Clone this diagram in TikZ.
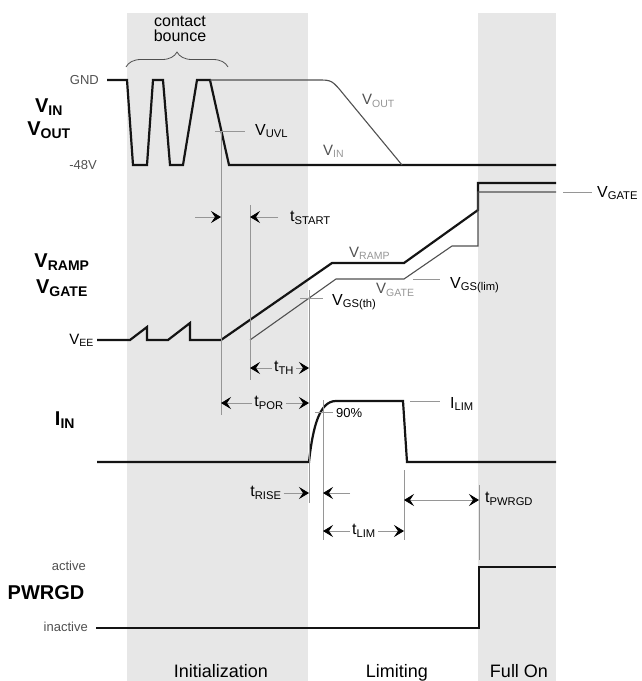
\documentclass[tikz,border=0pt]{standalone}
\usepackage{fontspec}
\setmainfont{Liberation Sans}
\usepackage{tikz}
\usetikzlibrary{arrows.meta,positioning,calc,decorations.pathreplacing}
\usepackage{xcolor}
\definecolor{bandcolor}{RGB}{231, 231, 231}
\definecolor{guidecolor}{RGB}{150, 150, 150}
\definecolor{tracecolor}{RGB}{20, 20, 20}
\definecolor{softcolor}{RGB}{80, 80, 80}
\newcommand{\lo}[1]{\textsubscript{#1}}
\newcommand{\glo}[1]{\textcolor{guidecolor}{\textsubscript{#1}}}

\begin{document}
\begin{tikzpicture}[x=1pt, y=-1pt,
    band/.style={fill=bandcolor, draw=none},
    trace/.style={line width=2.2pt, tracecolor, line join=miter},
    thintrace/.style={line width=1.1pt, softcolor},
    guide/.style={line width=0.8pt, guidecolor},
    tip/.style={-{Stealth[black, length=10pt, width=12pt, inset=4pt]}},
    dim/.style={guide, tip},
    dimboth/.style={guide, {Stealth[black, length=10pt, width=12pt, inset=4pt]}-{Stealth[black, length=10pt, width=12pt, inset=4pt]}},
    signal/.style={font=\bfseries\fontsize{20}{22}\selectfont, inner sep=0pt},
    level/.style={font=\fontsize{13}{15}\selectfont, anchor=east, text=softcolor, inner sep=0pt},
    tag/.style={font=\fontsize{16}{18}\selectfont, anchor=west, inner sep=0pt},
    wave/.style={font=\fontsize{15}{17}\selectfont, anchor=west, inner sep=0pt, text=softcolor},
    time/.style={font=\fontsize{16}{18}\selectfont, inner sep=2pt},
    phase/.style={font=\fontsize{18}{20}\selectfont, anchor=base},
]
    \useasboundingbox (0,0) rectangle (642,681);

    % Phase bands
    \fill[band] (127,13) rectangle (308,681);
    \fill[band] (478,13) rectangle (556,681);

    % Phase names
    \node[phase] (init) at (221,677) {Initialization};
    \node[phase] (limit) at (397,677) {Limiting};
    \node[phase] (fullon) at (519,677) {Full On};

    % ---------------- V_IN / V_OUT ----------------
    \node[signal] (vin) at (49,107) {V\lo{IN}};
    \node[signal] (vout) at (49,130) {V\lo{OUT}};
    \node[level] (gnd) at (99,80) {GND};
    \node[level] (m48) at (97,165) {-48V};

    \node[font=\fontsize{16}{15}\selectfont, align=center, inner sep=0pt] (bounce) at (180,29) {contact\\bounce};
    \draw[guide, softcolor, decorate, decoration={brace, amplitude=15pt}] (126,67) -- (228,67);

    \draw[trace] (107,80) -- (127,80) -- (133,165) -- (147,165) -- (153,80) -- (163,80)
        -- (170,165) -- (183,165) -- (197,80) -- (210,80) -- (229,165) -- (556,165);
    \draw[thintrace] (210,80) -- (318,80) .. controls (332,80) .. (345,96) -- (402,165);

    \node[wave] (voutw) at (362,101) {V\glo{OUT}};
    \node[wave] (vinw) at (323,151) {V\glo{IN}};

    % undervoltage point
    \coordinate (uvltop) at (221,131);
    \coordinate (uvltick) at (215,131);
    \node[tag] (vuvl) at (255,131) {V\lo{UVL}};
    \draw[guide] (uvltick) -- ($(uvltick -| vuvl.west)+(-10,0)$);

    % ---------------- V_RAMP / V_GATE ----------------
    \node[signal] (vramp) at (62,262) {V\lo{RAMP}};
    \node[signal] (vgate) at (62,288) {V\lo{GATE}};
    \node[level, text=black, font=\fontsize{15}{17}\selectfont] (vee) at (94,340) {V\lo{EE}};

    \draw[trace] (97,340) -- (130,340) -- (147,327) -- (147,340) -- (168,340) -- (190,323)
        -- (190,340) -- (221,340) -- (332,263) -- (404,263) -- (478,210) -- (478,183) -- (556,183);
    \draw[thintrace] (250,340) -- (336,279) -- (404,279) -- (452,246) -- (478,246)
        -- (478,192) -- (556,192);

    \node[wave] (vrampw) at (349,253) {V\glo{RAMP}};
    \node[wave] (vgatew) at (376,290) {V\glo{GATE}};

    \coordinate (gatetick) at (563,192);
    \node[tag] (vgater) at (597,193) {V\lo{GATE}};
    \draw[guide] (gatetick) -- ($(gatetick -| vgater.west)+(-5,0)$);

    \coordinate (limtick) at (413,279);
    \node[tag] (vgslim) at (450,285) {V\lo{GS(lim)}};
    \draw[guide] (limtick) -- (440,279);

    \coordinate (thtick) at (300,298);
    \node[tag] (vgsth) at (332,302) {V\lo{GS(th)}};
    \draw[guide] (thtick) -- (323,298);

    % ---------------- I_IN ----------------
    \node[signal] (iin) at (65,420) {I\lo{IN}};
    \draw[trace] (97,462) -- (309,462) .. controls (313,425) and (320,401) .. (336,401)
        -- (403,401) -- (407,462) -- (556,462);

    \coordinate (ilimtick) at (410,401);
    \node[tag] (ilim) at (450,404) {I\lo{LIM}};
    \draw[guide] (ilimtick) -- (440,401);

    \coordinate (ninetytick) at (315,412);
    \node[wave, text=black, font=\fontsize{13}{15}\selectfont] (ninety) at (336,413) {90\%};
    \draw[guide] (ninetytick) -- ($(ninety.west)+(-3,-1)$);

    % ---------------- PWRGD ----------------
    \node[signal] (pwrgd) at (46,593) {PWRGD};
    \node[level] (active) at (86,566) {active};
    \node[level] (inactive) at (88,627) {inactive};
    \draw[trace] (96,628) -- (479,628) -- (479,567) -- (556,567);

    % ---------------- timing guides ----------------
    \draw[guide] (uvltop) -- (221,415);
    \draw[guide] (250,205) -- (250,380);
    \draw[guide] (309,290) -- (309,503);
    \draw[guide] (323,400) -- (323,540);
    \draw[guide] (404,470) -- (404,540);
    \draw[guide] (479,485) -- (479,560);

    % t_START
    \coordinate (st1) at (195,217);
    \coordinate (st2) at (221,217);
    \coordinate (st3) at (278,217);
    \coordinate (st4) at (250,217);
    \draw[dim] (st1) -- (st2);
    \draw[dim] (st3) -- (st4);
    \node[time, anchor=west, inner sep=0pt] (tstart) at (290,218) {t\lo{START}};

    % t_TH
    \node[time] (tth) at (284,368) {t\lo{TH}};
    \draw[dim] (tth) -- (250,368);
    \draw[dim] (tth) -- (309,368);

    % t_POR
    \node[time] (tpor) at (269,403) {t\lo{POR}};
    \draw[dim] (tpor) -- (221,403);
    \draw[dim] (tpor) -- (309,403);

    % t_RISE
    \node[time] (trise) at (266,493) {t\lo{RISE}};
    \draw[dim] (trise) -- (309,493);
    \coordinate (rs1) at (350,493);
    \draw[dim] (rs1) -- (323,493);

    % t_LIM
    \node[time] (tlim) at (364,531) {t\lo{LIM}};
    \draw[dim] (tlim) -- (323,531);
    \draw[dim] (tlim) -- (404,531);

    % t_PWRGD
    \coordinate (pg1) at (404,500);
    \coordinate (pg2) at (479,500);
    \draw[dimboth] (pg1) -- (pg2);
    \node[time, anchor=west, inner sep=0pt] (tpwrgd) at (485,499) {t\lo{PWRGD}};
\end{tikzpicture}
\end{document}
